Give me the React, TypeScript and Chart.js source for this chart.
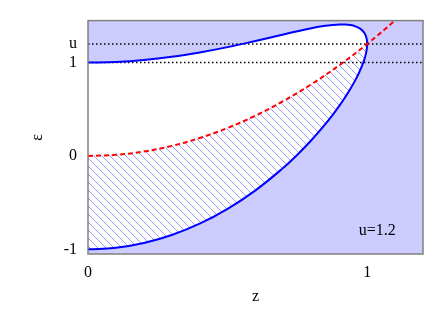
import { useEffect, useRef } from 'react';
import { Chart, registerables } from 'chart.js';

Chart.register(...registerables);

// ---- data ----
const U = 1.2;
const X_TICKS = [0, 1];
const Y_TICKS = [-1, 0, 1, U];
const Y_TICK_LABELS = ['-1', '0', '1', 'u'];
const LEVELS = [1, U];

// closed blue curve: lower and upper branch at the same z values
const CURVE_Z = [0, 0.1, 0.2, 0.3, 0.4, 0.5, 0.6, 0.7, 0.75, 0.8, 0.85, 0.88, 0.9, 0.92, 0.94, 0.96, 0.97, 0.98, 0.99, 0.995, 0.999, 1.0];
const CURVE_LOWER = [-1.0, -0.983, -0.932, -0.846, -0.725, -0.566, -0.368, -0.126, 0.014, 0.168, 0.34, 0.454, 0.536, 0.624, 0.719, 0.826, 0.886, 0.954, 1.035, 1.088, 1.153, 1.2];
const CURVE_UPPER = [1.0, 1.007, 1.028, 1.062, 1.109, 1.166, 1.232, 1.302, 1.336, 1.368, 1.394, 1.404, 1.408, 1.408, 1.402, 1.386, 1.372, 1.351, 1.317, 1.288, 1.242, 1.2];

// red dashed curve
const RED_Z = [0, 0.1, 0.2, 0.3, 0.4, 0.5, 0.6, 0.7, 0.8, 0.9, 1.0, 1.1, 1.2];
const RED_E = [0, 0.012, 0.048, 0.108, 0.192, 0.3, 0.432, 0.588, 0.768, 0.972, 1.2, 1.452, 1.728];

const ANNOTATION = 'u=1.2';
const ANNOTATION_POS = { z: 1.036, e: -0.8 };

const FONT = { family: '"Liberation Serif", "DejaVu Serif", serif', size: 16 };

const bgPlugin = {
  id: 'bgHatch',
  beforeDatasetsDraw(chart: any) {
    const { ctx, chartArea } = chart;
    const { left, top, right, bottom } = chartArea;
    const xs = chart.scales.x;
    const red = chart.getDatasetMeta(0).dataset;
    const curve = chart.getDatasetMeta(1).dataset;
    red.updateControlPoints(chartArea, 'x');
    curve.updateControlPoints(chartArea, 'x');
    ctx.save();
    ctx.beginPath();
    ctx.rect(left, top, right - left, bottom - top);
    ctx.clip();
    ctx.fillStyle = '#ccccff';
    ctx.fillRect(left, top, right - left, bottom - top);
    // inside of the closed curve: white
    ctx.beginPath();
    curve.path(ctx);
    ctx.closePath();
    ctx.fillStyle = '#ffffff';
    ctx.fill();
    ctx.clip();
    // region below red curve
    ctx.beginPath();
    red.path(ctx);
    ctx.lineTo(xs.getPixelForValue(RED_Z[RED_Z.length - 1]), bottom + 5);
    ctx.lineTo(xs.getPixelForValue(RED_Z[0]), bottom + 5);
    ctx.closePath();
    ctx.clip();
    ctx.strokeStyle = '#9a9aff';
    ctx.lineWidth = 1;
    const h = bottom - top;
    ctx.beginPath();
    for (let k = left - h; k < right; k += 8) {
      ctx.moveTo(k, top);
      ctx.lineTo(k + h, bottom);
    }
    ctx.stroke();
    ctx.restore();
  },
  afterDatasetsDraw(chart: any) {
    const { ctx, chartArea } = chart;
    const { left, top, right, bottom } = chartArea;
    ctx.save();
    ctx.strokeStyle = '#808080';
    ctx.lineWidth = 1.5;
    ctx.strokeRect(left, top, right - left, bottom - top);
    ctx.fillStyle = '#000';
    ctx.font = `${FONT.size}px ${FONT.family}`;
    ctx.textAlign = 'center';
    ctx.textBaseline = 'middle';
    ctx.fillText(
      ANNOTATION,
      chart.scales.x.getPixelForValue(ANNOTATION_POS.z),
      chart.scales.y.getPixelForValue(ANNOTATION_POS.e)
    );
    ctx.restore();
  },
};

export default function App() {
  const ref = useRef<HTMLCanvasElement>(null);
  useEffect(() => {
    document.body.style.margin = '0';
    const closed = [
      ...CURVE_Z.map((z, i) => ({ x: z, y: CURVE_LOWER[i] })),
      ...CURVE_Z.slice(0, -1).map((z, i) => ({ x: z, y: CURVE_UPPER[i] })).reverse(),
    ];
    const redPts = RED_Z.map((z, i) => ({ x: z, y: RED_E[i] }));
    const levelSets = LEVELS.map((lv) => ({
      data: [{ x: 0, y: lv }, { x: 1.2, y: lv }],
      borderColor: '#000',
      borderWidth: 1.5,
      borderDash: [1.5, 2.5],
      pointRadius: 0,
      tension: 0,
      fill: false,
      order: 2,
    }));
    const chart = new Chart(ref.current!, {
      type: 'line',
      data: {
        datasets: [
          {
            data: redPts,
            borderColor: '#ff0000',
            borderWidth: 2,
            borderDash: [5, 3],
            pointRadius: 0,
            tension: 0.4,
            fill: false,
            order: 0,
          },
          {
            data: closed,
            borderColor: '#0000ff',
            borderWidth: 2,
            pointRadius: 0,
            tension: 0.4,
            fill: false,
            order: 1,
          },
          ...levelSets,
        ] as any,
      },
      options: {
        animation: false,
        responsive: false,
        events: [],
        layout: { padding: { left: 0, right: 20, top: 20, bottom: 0 } },
        plugins: { legend: { display: false }, tooltip: { enabled: false } },
        scales: {
          x: {
            type: 'linear',
            min: 0,
            max: 1.2,
            grid: { display: false, drawTicks: false },
            border: { display: false },
            ticks: { font: FONT, color: '#000', padding: 9, maxRotation: 0, autoSkip: false },
            afterBuildTicks: (s: any) => {
              s.ticks = X_TICKS.map((v) => ({ value: v }));
            },
            afterFit: (s: any) => {
              s.height = 56;
            },
            title: { display: true, text: 'z', font: FONT, color: '#000', padding: { top: 0, bottom: 4 } },
          },
          y: {
            type: 'linear',
            min: -1.05,
            max: 1.45,
            grid: { display: false, drawTicks: false },
            border: { display: false },
            ticks: {
              font: FONT,
              color: '#000',
              padding: 11,
              autoSkip: false,
              callback: (v: any) => {
                const i = Y_TICKS.findIndex((t) => Math.abs(t - v) < 1e-9);
                return i >= 0 ? Y_TICK_LABELS[i] : '';
              },
            },
            afterBuildTicks: (s: any) => {
              s.ticks = Y_TICKS.map((v) => ({ value: v }));
            },
            afterFit: (s: any) => {
              s.width = 88;
            },
            title: { display: true, text: 'ε', font: FONT, color: '#000', padding: { top: 28, bottom: 0 } },
          },
        },
      } as any,
      plugins: [bgPlugin],
    });
    return () => chart.destroy();
  }, []);
  return <canvas ref={ref} width={443} height={310} style={{ display: 'block' }} />;
}
